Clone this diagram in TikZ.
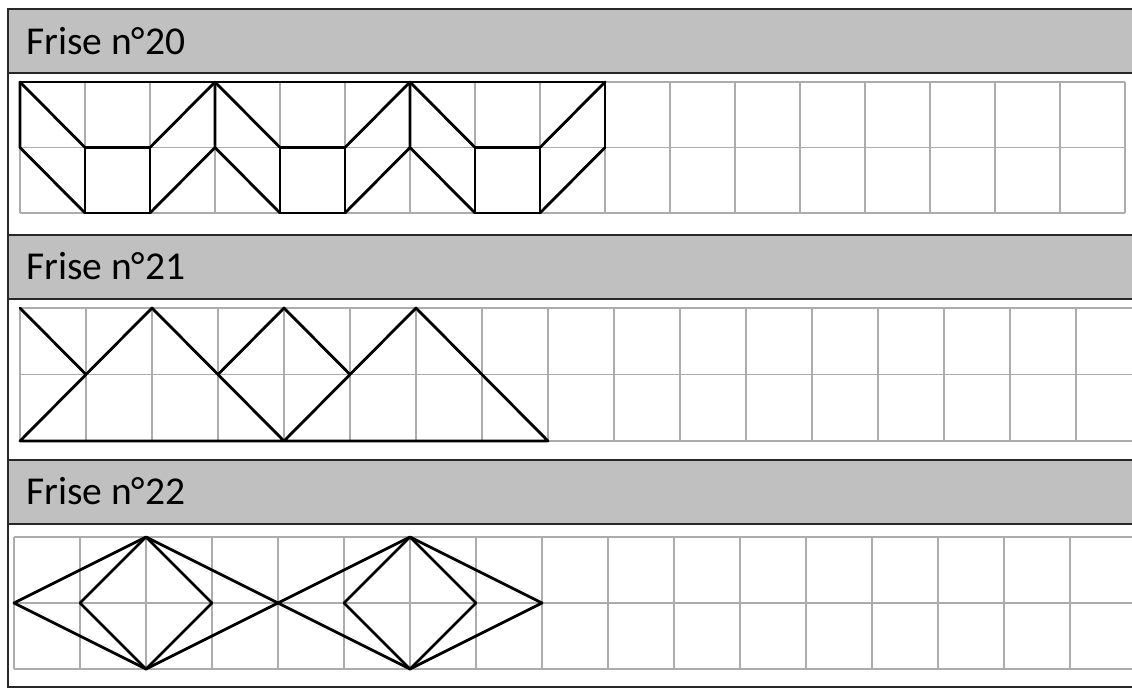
\documentclass[tikz,border=0pt]{standalone}
\usepackage{fontspec}
\setmainfont{Carlito}
\definecolor{hdrgray}{RGB}{192,192,192}
\definecolor{gridgray}{RGB}{172,172,172}
\definecolor{framedark}{RGB}{40,40,40}
\begin{document}
\begin{tikzpicture}[x=1pt,y=-1pt,
  gridline/.style={draw=gridgray,line width=1.5pt},
  motif/.style={draw=black,line width=2.8pt,line join=round,line cap=round},
  header/.style={fill=hdrgray,draw=framedark,line width=2pt},
  frameline/.style={draw=framedark,line width=2pt},
  title/.style={anchor=base west,inner sep=0pt,text=black,font=\fontsize{39.5}{44}\selectfont}]
\useasboundingbox (0,0) rectangle (1132,689);
\clip (0,0) rectangle (1132,689);
\fill[white] (0,0) rectangle (1132,689);

% headers
\draw[header] (8,9) rectangle (1140,73);
\draw[header] (8,235) rectangle (1140,299);
\draw[header] (8,460) rectangle (1140,524);
\draw[frameline] (8,9) -- (8,687) -- (1140,687);

\node[title] (t20) at (26,54) {Frise n°20};
\node[title] (t21) at (26,279) {Frise n°21};
\node[title] (t22) at (26,504) {Frise n°22};

% Frise 20
\begin{scope}[shift={(20,82)},x=65pt,y=-65.5pt]
  \foreach \i in {0,...,17} \draw[gridline] (\i,0) -- (\i,2);
  \foreach \j in {0,1,2} \draw[gridline] (0,\j) -- (17,\j);
  \draw[motif] (0,0) -- (9,0);
  \foreach \k in {0,3,6} {
    \draw[motif] (\k,0) -- (\k,1) -- (\k+1,2);
    \draw[motif] (\k,0) -- (\k+1,1);
    \draw[motif] (\k+1,1) rectangle (\k+2,2);
    \draw[motif] (\k+2,1) -- (\k+3,0);
    \draw[motif] (\k+2,2) -- (\k+3,1);
  }
  \draw[motif] (9,0) -- (9,1);
\end{scope}

% Frise 21
\begin{scope}[shift={(20,308)},x=66pt,y=-66.5pt]
  \foreach \i in {0,...,17} \draw[gridline] (\i,0) -- (\i,2);
  \foreach \j in {0,1,2} \draw[gridline] (0,\j) -- (17.5,\j);
  \draw[motif] (0,2) -- (2,0) -- (4,2) -- (6,0) -- (8,2) -- cycle;
  \draw[motif] (0,0) -- (1,1);
  \draw[motif] (3,1) -- (4,0) -- (5,1);
\end{scope}

% Frise 22
\begin{scope}[shift={(14,537)},x=66pt,y=-66pt]
  \foreach \i in {0,...,17} \draw[gridline] (\i,0) -- (\i,2);
  \foreach \j in {0,1,2} \draw[gridline] (0,\j) -- (17.5,\j);
  \foreach \k in {0,4} {
    \draw[motif] (\k,1) -- (\k+2,0) -- (\k+4,1) -- (\k+2,2) -- cycle;
    \draw[motif] (\k+1,1) -- (\k+2,0) -- (\k+3,1) -- (\k+2,2) -- cycle;
  }
\end{scope}
\end{tikzpicture}
\end{document}
